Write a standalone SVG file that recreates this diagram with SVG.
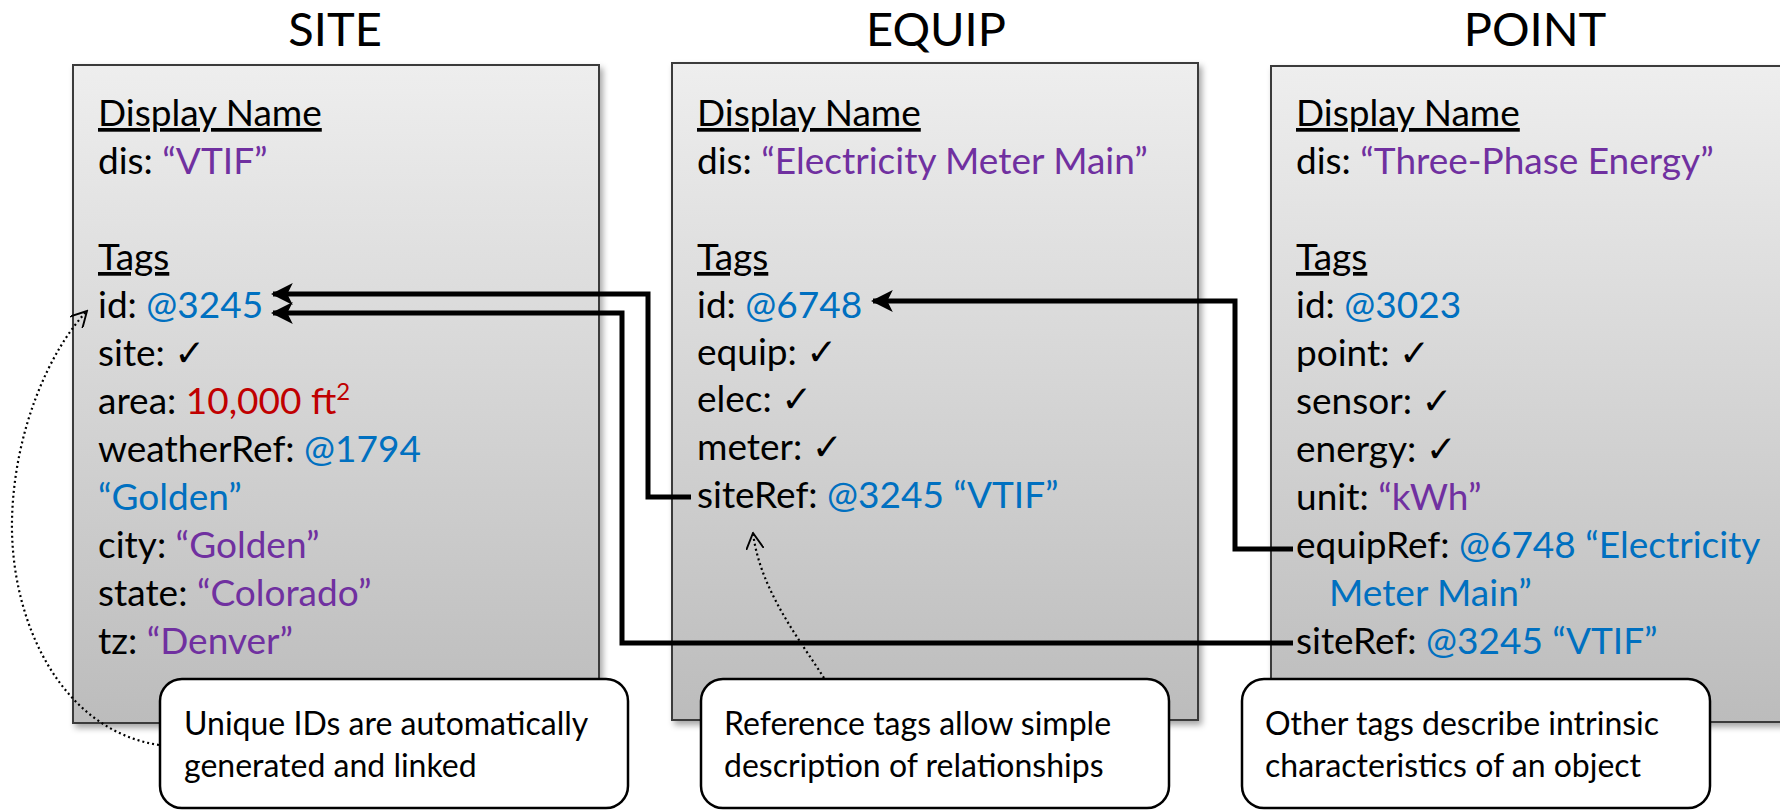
<svg xmlns="http://www.w3.org/2000/svg" width="1780" height="810" viewBox="0 0 1780 810">
<style>
.title{font-family:Lato,"Liberation Sans",sans-serif;font-size:47px;fill:#000;text-anchor:middle}
.t{font-family:Lato,"Liberation Sans",sans-serif;font-size:37px;fill:#000}
.c{font-family:Lato,"Liberation Sans",sans-serif;font-size:32px;fill:#000}
.u{text-decoration:underline}
.p{fill:#7030A0}
.b{fill:#0070C0}
.r{fill:#C00000}
.ck{font-family:"DejaVu Sans",sans-serif;font-size:37px}
.box{fill:url(#g);stroke:#3a3a3a;stroke-width:2;filter:url(#sh)}
.call{fill:#fff;stroke:#000;stroke-width:2.5}
.conn{fill:none;stroke:#000;stroke-width:5;stroke-linejoin:miter}
.dot{fill:none;stroke:#000;stroke-width:2.2;stroke-dasharray:2 3}
</style>
<defs>
<linearGradient id="g" x1="0" y1="0" x2="0" y2="1">
<stop offset="0" stop-color="#eeeeee"/>
<stop offset="1" stop-color="#bcbcbc"/>
</linearGradient>
<filter id="sh" x="-5%" y="-5%" width="115%" height="115%">
<feDropShadow dx="3" dy="4" stdDeviation="3" flood-color="#000" flood-opacity="0.35"/>
</filter>
<marker id="ah" viewBox="0 0 10 10" refX="9" refY="5" markerWidth="4.4" markerHeight="4.4" orient="auto" markerUnits="strokeWidth">
<path d="M0,0 L10,5 L0,10 L2.5,5 Z" fill="#000"/>
</marker>
<marker id="oh" viewBox="0 0 12 12" refX="11" refY="6" markerWidth="8" markerHeight="8" orient="auto" markerUnits="strokeWidth">
<path d="M0,0 L11,6 L0,12" fill="none" stroke="#000" stroke-width="1.3"/>
</marker>
</defs>

<g id="site">
<text class="title" x="335" y="46">SITE</text>
<rect class="box" x="73" y="65" width="526" height="658"/>
<text class="t u" x="98" y="126">Display Name</text>
<text class="t" x="98" y="174">dis: <tspan class="p">“VTIF”</tspan></text>
<text class="t u" x="98" y="270">Tags</text>
<text class="t" x="98" y="318">id: <tspan class="b">@3245</tspan></text>
<text class="t" x="98" y="366">site: <tspan class="ck">✓</tspan></text>
<text class="t" x="98" y="414">area: <tspan class="r">10,000 ft</tspan><tspan class="r" font-size="24" dy="-14">2</tspan></text>
<text class="t" x="98" y="462">weatherRef: <tspan class="b">@1794</tspan></text>
<text class="t b" x="98" y="510">“Golden”</text>
<text class="t" x="98" y="558">city: <tspan class="p">“Golden”</tspan></text>
<text class="t" x="98" y="606">state: <tspan class="p">“Colorado”</tspan></text>
<text class="t" x="98" y="654">tz: <tspan class="p">“Denver”</tspan></text>
</g>

<g id="equip">
<text class="title" x="936" y="46">EQUIP</text>
<rect class="box" x="672" y="63" width="526" height="657"/>
<text class="t u" x="697" y="126">Display Name</text>
<text class="t" x="697" y="174">dis: <tspan class="p">“Electricity Meter Main”</tspan></text>
<text class="t u" x="697" y="270">Tags</text>
<text class="t" x="697" y="318">id: <tspan class="b">@6748</tspan></text>
<text class="t" x="697" y="365">equip: <tspan class="ck">✓</tspan></text>
<text class="t" x="697" y="412">elec: <tspan class="ck">✓</tspan></text>
<text class="t" x="697" y="460">meter: <tspan class="ck">✓</tspan></text>
<text class="t" x="697" y="508">siteRef: <tspan class="b">@3245 “VTIF”</tspan></text>
</g>

<g id="point">
<text class="title" x="1535" y="46">POINT</text>
<rect class="box" x="1271" y="66" width="536" height="656"/>
<text class="t u" x="1296" y="126">Display Name</text>
<text class="t" x="1296" y="174">dis: <tspan class="p">“Three-Phase Energy”</tspan></text>
<text class="t u" x="1296" y="270">Tags</text>
<text class="t" x="1296" y="318">id: <tspan class="b">@3023</tspan></text>
<text class="t" x="1296" y="366">point: <tspan class="ck">✓</tspan></text>
<text class="t" x="1296" y="414">sensor: <tspan class="ck">✓</tspan></text>
<text class="t" x="1296" y="462">energy: <tspan class="ck">✓</tspan></text>
<text class="t" x="1296" y="510">unit: <tspan class="p">“kWh”</tspan></text>
<text class="t" x="1296" y="558">equipRef: <tspan class="b">@6748 “Electricity</tspan></text>
<text class="t b" x="1329" y="606">Meter Main”</text>
<text class="t" x="1296" y="654">siteRef: <tspan class="b">@3245 “VTIF”</tspan></text>
</g>

<g id="connectors">
<path class="conn" d="M691,497 L648,497 L648,294 L273,294" marker-end="url(#ah)"/>
<path class="conn" d="M1293,643 L622,643 L622,313 L273,313" marker-end="url(#ah)"/>
<path class="conn" d="M1293,549 L1235,549 L1235,301 L873,301" marker-end="url(#ah)"/>
<path class="dot" d="M159,745 C60,730 10,620 12,520 C14,430 50,350 87,311" marker-end="url(#oh)"/>
<path class="dot" d="M824,678 C800,640 760,590 753,533" marker-end="url(#oh)"/>
</g>

<g id="callout1">
<rect class="call" x="160" y="679" width="468" height="129" rx="22"/>
<text class="c" x="184" y="735">Unique IDs are automatically</text>
<text class="c" x="184" y="777">generated and linked</text>
</g>
<g id="callout2">
<rect class="call" x="701" y="679" width="468" height="129" rx="22"/>
<text class="c" x="724" y="735">Reference tags allow simple</text>
<text class="c" x="724" y="777">description of relationships</text>
</g>
<g id="callout3">
<rect class="call" x="1242" y="679" width="468" height="129" rx="22"/>
<text class="c" x="1265" y="735">Other tags describe intrinsic</text>
<text class="c" x="1265" y="777">characteristics of an object</text>
</g>
</svg>
